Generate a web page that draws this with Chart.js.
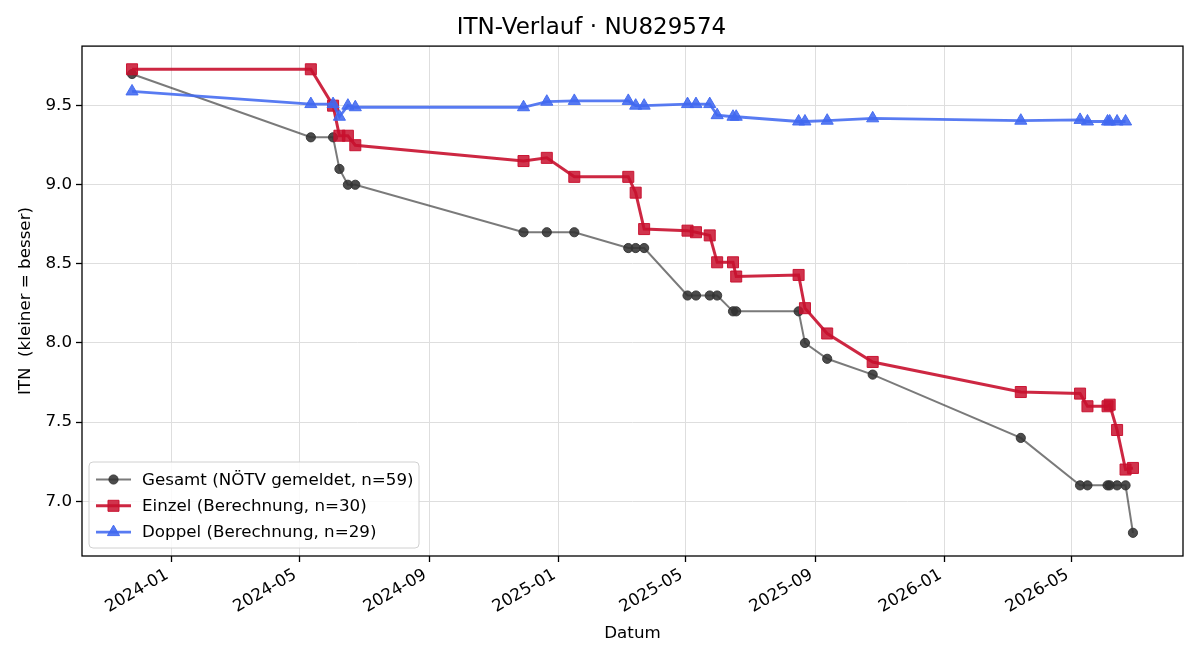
<!DOCTYPE html>
<html>
<head>
<meta charset="utf-8">
<title>ITN-Verlauf</title>
<script src="https://cdn.jsdelivr.net/npm/chart.js"></script>
<style>
  html, body { margin: 0; padding: 0; background: #fff; }
</style>
</head>
<body>
<canvas id="itnChart" width="1200" height="660"></canvas>
<script>
// Spieltermine (gemeinsam für alle Reihen)
const matchDates = [
  '2023-11-25','2024-05-12','2024-06-02','2024-06-08','2024-06-16','2024-06-23',
  '2024-11-29','2024-12-21','2025-01-16','2025-03-08','2025-03-15','2025-03-23',
  '2025-05-03','2025-05-11','2025-05-24','2025-05-31','2025-06-15','2025-06-18',
  '2025-08-16','2025-08-22','2025-09-12','2025-10-25','2026-03-14','2026-05-09',
  '2026-05-16','2026-06-04','2026-06-06','2026-06-13','2026-06-21','2026-06-28'
];
const gesamtITN = [9.7,9.3,9.3,9.1,9.0,9.0, 8.7,8.7,8.7,8.6,8.6,8.6, 8.3,8.3,8.3,8.3,8.2,8.2,
  8.2,8.0,7.9,7.8,7.4,7.1, 7.1,7.1,7.1,7.1,7.1,6.8];
const einzelITN = [9.73,9.73,9.50,9.31,9.31,9.25, 9.15,9.17,9.05,9.05,8.95,8.72, 8.71,8.70,8.68,8.51,8.51,8.42,
  8.43,8.22,8.06,7.88,7.69,7.68, 7.60,7.60,7.61,7.45,7.20,7.21];
const doppelITN = [9.59,9.51,9.51,9.43,9.50,9.49, 9.49,9.525,9.53,9.53,9.50,9.50, 9.51,9.51,9.51,9.44,9.43,9.43,
  9.40,9.40,9.405,9.42,9.405,9.41, 9.40,9.40,9.40,9.40,9.40];

const seriesLabels = ['Gesamt (NÖTV gemeldet, n=59)', 'Einzel (Berechnung, n=30)', 'Doppel (Berechnung, n=29)'];
const xTickLabels = ['2024-01','2024-05','2024-09','2025-01','2025-05','2025-09','2026-01','2026-05'];
const yTickValues = [7.0, 7.5, 8.0, 8.5, 9.0, 9.5];

const FONT = 'DejaVu Sans';
Chart.defaults.font.family = FONT;
Chart.defaults.color = '#000';

const toPoints = vals => vals.map((v, i) => ({x: Date.parse(matchDates[i]), y: v}));

// Achsengrenzen wie matplotlib: 5% Rand
const allX = matchDates.map(d => Date.parse(d));
const allY = gesamtITN.concat(einzelITN, doppelITN);
const xPad = (Math.max(...allX) - Math.min(...allX)) * 0.05;
const yPad = (Math.max(...allY) - Math.min(...allY)) * 0.05;

function drawMarker(ctx, style, r, x, y) {
  ctx.beginPath();
  if (style === 'rect') {
    const s = Math.SQRT1_2 * r;
    ctx.rect(x - s, y - s, 2 * s, 2 * s);
  } else if (style === 'triangle') {
    ctx.moveTo(x, y - r);
    ctx.lineTo(x + r * 0.866, y + r / 2);
    ctx.lineTo(x - r * 0.866, y + r / 2);
    ctx.closePath();
  } else {
    ctx.arc(x, y, r, 0, Math.PI * 2);
  }
  ctx.fill();
  ctx.stroke();
}

// Rahmen + Legende unten links im Plotbereich
const frameAndLegend = {
  id: 'frameAndLegend',
  afterDraw(chart) {
    const {ctx, chartArea: a} = chart;
    ctx.save();
    ctx.strokeStyle = '#000';
    ctx.lineWidth = 1.3;
    ctx.strokeRect(a.left, a.top, a.right - a.left, a.bottom - a.top);

    const bw = 330, bh = 86;
    const bx = a.left + 7, by = a.bottom - 8 - bh;
    ctx.beginPath();
    ctx.roundRect(bx, by, bw, bh, 4);
    ctx.fillStyle = 'rgba(255,255,255,0.85)';
    ctx.fill();
    ctx.strokeStyle = '#d0d0d0';
    ctx.lineWidth = 1;
    ctx.stroke();

    ctx.font = '16.7px "' + FONT + '"';
    ctx.textBaseline = 'middle';
    chart.data.datasets.forEach((ds, i) => {
      const cy = by + 17.5 + i * 26.3;
      ctx.strokeStyle = ds.borderColor;
      ctx.lineWidth = ds.borderWidth;
      ctx.beginPath();
      ctx.moveTo(bx + 7, cy);
      ctx.lineTo(bx + 42, cy);
      ctx.stroke();
      ctx.fillStyle = ds.pointBackgroundColor;
      ctx.strokeStyle = ds.pointBorderColor;
      ctx.lineWidth = 1;
      drawMarker(ctx, ds.pointStyle, ds.pointRadius, bx + 24.5, cy);
      ctx.fillStyle = '#000';
      ctx.fillText(ds.label, bx + 53, cy + 1);
    });
    ctx.restore();
  }
};

new Chart(document.getElementById('itnChart').getContext('2d'), {
  type: 'line',
  data: {
    datasets: [
      {
        label: seriesLabels[0],
        data: toPoints(gesamtITN),
        borderColor: 'rgba(51,51,51,0.65)',
        borderWidth: 2,
        pointStyle: 'circle',
        pointRadius: 4.6,
        pointBackgroundColor: 'rgba(51,51,51,0.88)',
        pointBorderColor: 'rgba(51,51,51,0.9)',
        pointBorderWidth: 1,
        tension: 0,
        order: 3
      },
      {
        label: seriesLabels[1],
        data: toPoints(einzelITN),
        borderColor: 'rgba(200,16,46,0.9)',
        borderWidth: 3,
        pointStyle: 'rect',
        pointRadius: 7.8,
        pointBackgroundColor: 'rgba(200,16,46,0.85)',
        pointBorderColor: 'rgba(200,16,46,0.95)',
        pointBorderWidth: 1,
        tension: 0,
        order: 2
      },
      {
        label: seriesLabels[2],
        data: toPoints(doppelITN),
        borderColor: 'rgba(65,105,240,0.88)',
        borderWidth: 2.8,
        pointStyle: 'triangle',
        pointRadius: 7,
        pointBackgroundColor: 'rgba(65,105,240,0.88)',
        pointBorderColor: 'rgba(65,105,240,0.95)',
        pointBorderWidth: 1,
        tension: 0,
        order: 1
      }
    ]
  },
  options: {
    responsive: false,
    animation: false,
    devicePixelRatio: 1,
    layout: {padding: {left: 0, right: 17, top: 0, bottom: 0}},
    plugins: {
      legend: {display: false},
      tooltip: {enabled: false},
      title: {
        display: true,
        text: 'ITN-Verlauf · NU829574',
        font: {size: 23, weight: 'normal'},
        color: '#000',
        padding: {top: 14.5, bottom: 4}
      }
    },
    scales: {
      x: {
        type: 'linear',
        min: Math.min(...allX) - xPad,
        max: Math.max(...allX) + xPad,
        afterBuildTicks: s => { s.ticks = xTickLabels.map(l => ({value: Date.parse(l + '-01')})); },
        afterFit: s => { s.height = 104; },
        ticks: {
          autoSkip: false,
          minRotation: 30,
          maxRotation: 30,
          padding: 3,
          labelOffset: -4,
          font: {size: 16.7},
          callback: (v, i) => xTickLabels[i]
        },
        grid: {color: '#dedede', lineWidth: 1, tickColor: '#000', tickLength: 6, tickWidth: 1.3},
        border: {display: false},
        title: {display: true, text: 'Datum', font: {size: 16.7}, padding: {top: 4, bottom: 16.5}}
      },
      y: {
        type: 'linear',
        min: Math.min(...allY) - yPad,
        max: Math.max(...allY) + yPad,
        afterBuildTicks: s => { s.ticks = yTickValues.map(v => ({value: v})); },
        afterFit: s => { s.width = 82; },
        ticks: {
          padding: 4,
          font: {size: 16.7},
          callback: v => Number(v).toFixed(1)
        },
        grid: {color: '#dedede', lineWidth: 1, tickColor: '#000', tickLength: 6, tickWidth: 1.3},
        border: {display: false},
        title: {display: true, text: 'ITN  (kleiner = besser)', font: {size: 16.7}, padding: {top: 15.5, bottom: 0}}
      }
    }
  },
  plugins: [frameAndLegend]
});
</script>
</body>
</html>
